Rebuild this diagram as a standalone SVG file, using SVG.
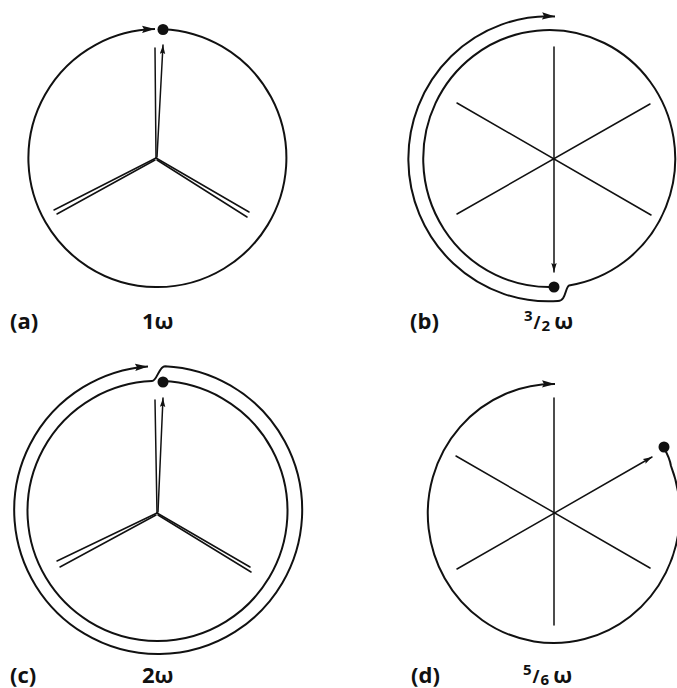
<svg xmlns="http://www.w3.org/2000/svg" width="677" height="688" viewBox="0 0 677 688">
<defs>
<marker id="big" markerUnits="userSpaceOnUse" viewBox="0 0 13 8" refX="13" refY="4" markerWidth="13" markerHeight="8" orient="auto">
<path d="M0,0.3 L13,4 L0,7.7 L2,4 z" fill="#111"/>
</marker>
<marker id="small" markerUnits="userSpaceOnUse" viewBox="0 0 9 6" refX="9" refY="3" markerWidth="9" markerHeight="6" orient="auto">
<path d="M0,0.3 L9,3 L0,5.7 L1.5,3 z" fill="#111"/>
</marker>
</defs>
<style>
.orbit{fill:none;stroke:#111;stroke-width:2}
.spoke{fill:none;stroke:#111;stroke-width:1.5;stroke-linecap:round}
.dot{fill:#111}
.lbl{font-family:"Open Sans","Liberation Sans",sans-serif;font-weight:bold;font-size:22px;fill:#111}
.frac{font-family:"Open Sans","Liberation Sans",sans-serif;font-weight:bold;fill:#111}
</style>
<rect width="677" height="688" fill="#fff"/>

<g id="panel-a">
<g id="a-orbit">
<path class="orbit" d="M163,29.2 A129,129 0 1 1 155,29.1" marker-end="url(#big)"/>
<circle class="dot" cx="163" cy="29.5" r="5.5"/>
</g>
<g id="a-spokes">
<line class="spoke" x1="156" y1="158" x2="155" y2="48"/>
<line class="spoke" x1="157" y1="157" x2="163" y2="45" marker-end="url(#small)"/>
<line class="spoke" x1="156" y1="158" x2="54" y2="210"/>
<line class="spoke" x1="155" y1="160" x2="57" y2="214"/>
<line class="spoke" x1="156" y1="158" x2="249" y2="212"/>
<line class="spoke" x1="157" y1="160" x2="247" y2="217"/>
</g>
<text class="lbl" x="10" y="329">(a)</text>
<text class="lbl" x="142" y="329">1ω</text>
</g>

<g id="panel-b">
<g id="b-orbit">
<path class="orbit" d="M554,287 A126,128.5 0 1 1 569,285.5 C565,288 566,301 558,301 A140,142.5 0 1 1 555,16.5" marker-end="url(#big)"/>
<circle class="dot" cx="554" cy="287" r="5.5"/>
</g>
<g id="b-spokes">
<line class="spoke" x1="554" y1="47" x2="554" y2="272" marker-end="url(#small)"/>
<line class="spoke" x1="457" y1="103" x2="651" y2="215"/>
<line class="spoke" x1="457" y1="214" x2="650" y2="104"/>
</g>
<text class="lbl" x="410" y="329">(b)</text>
<text class="frac" x="524" y="329"><tspan font-size="15" dy="-8">3</tspan><tspan font-size="17" dx="1" dy="8">/</tspan><tspan font-size="15" dx="1" dy="2">2</tspan><tspan font-size="22" dx="4" dy="-2">ω</tspan></text>
</g>

<g id="panel-c">
<g id="c-orbit">
<path class="orbit" d="M163,381.1 A130,130 0 1 1 152,381.1 C157,381 159,366.2 165,366.2 A144,144 0 1 1 148,366.4" marker-end="url(#big)"/>
<circle class="dot" cx="163" cy="382" r="5.5"/>
</g>
<g id="c-spokes">
<line class="spoke" x1="157" y1="513" x2="155" y2="400"/>
<line class="spoke" x1="158" y1="512" x2="163" y2="398" marker-end="url(#small)"/>
<line class="spoke" x1="157" y1="513" x2="57" y2="561"/>
<line class="spoke" x1="156" y1="515" x2="60" y2="567"/>
<line class="spoke" x1="157" y1="513" x2="250" y2="567"/>
<line class="spoke" x1="158" y1="515" x2="251" y2="572"/>
</g>
<text class="lbl" x="10" y="683">(c)</text>
<text class="lbl" x="142" y="683">2ω</text>
</g>

<g id="panel-d">
<g id="d-orbit">
<path class="orbit" d="M664,448 C668,455 670,460 671,466 A126,129.5 0 1 1 555,384" marker-end="url(#big)"/>
<circle class="dot" cx="664" cy="447" r="5.5"/>
</g>
<g id="d-spokes">
<line class="spoke" x1="554" y1="398" x2="554" y2="625"/>
<line class="spoke" x1="456" y1="456" x2="650" y2="568"/>
<line class="spoke" x1="457" y1="569" x2="652" y2="457" marker-end="url(#small)"/>
</g>
<text class="lbl" x="411" y="683">(d)</text>
<text class="frac" x="523" y="683"><tspan font-size="15" dy="-8">5</tspan><tspan font-size="17" dx="1" dy="8">/</tspan><tspan font-size="15" dx="1" dy="2">6</tspan><tspan font-size="22" dx="4" dy="-2">ω</tspan></text>
</g>
</svg>
